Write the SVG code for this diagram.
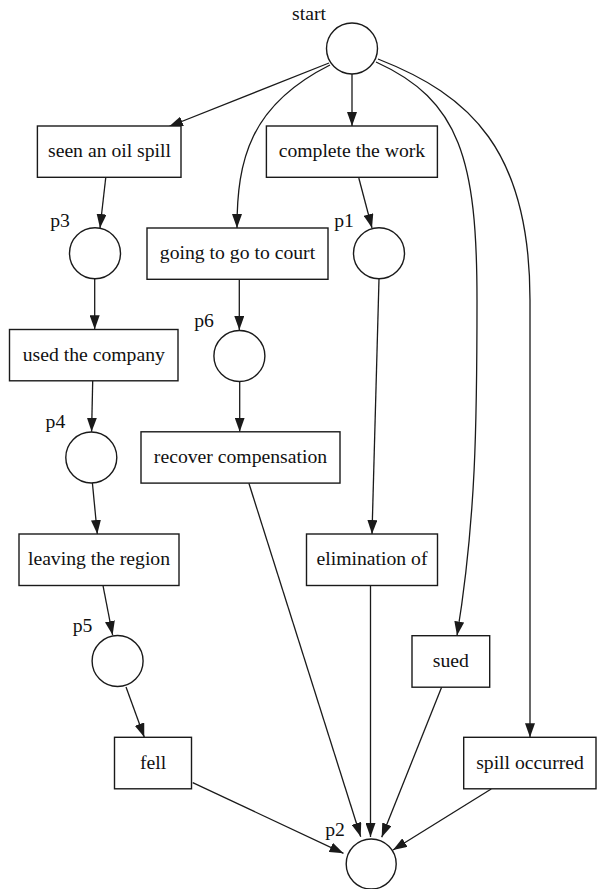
<svg xmlns="http://www.w3.org/2000/svg" width="597" height="889" viewBox="0 0 597 889">
<style>
.n{fill:#fff;stroke:#1a1a1a;stroke-width:1.4}
.t{font-family:"Liberation Serif","Times New Roman",serif;font-size:19.7px;fill:#111;text-anchor:middle}
.e{fill:none;stroke:#1a1a1a;stroke-width:1.3;marker-end:url(#ah)}
</style>
<defs>
<marker id="ah" markerUnits="userSpaceOnUse" markerWidth="14" markerHeight="10" refX="14" refY="5" orient="auto" viewBox="0 0 14 10">
<path d="M0,0 L14,5 L0,10 z" fill="#1a1a1a"/>
</marker>
</defs>
<rect width="597" height="889" fill="#fff"/>
<g id="edges">
<path class="e" d="M329,63 L169,126.5"/>
<path class="e" d="M330,65 C250,105 237,160 237,228"/>
<path class="e" d="M352,74 L352,126"/>
<path class="e" d="M376,62 C460,100 477,160 477,300 C477,420 476,520 457,635.5"/>
<path class="e" d="M378,59 C470,95 530,150 530,300 L530,737.3"/>
<path class="e" d="M105.7,178 L100,228"/>
<path class="e" d="M358.8,178 L372,228"/>
<path class="e" d="M94.7,278.5 L94.7,329.3"/>
<path class="e" d="M239.3,278.5 L239.3,330"/>
<path class="e" d="M379,279 L372,534"/>
<path class="e" d="M92.7,381 L91.6,431.7"/>
<path class="e" d="M239.7,381.7 L239.7,431.7"/>
<path class="e" d="M92.4,483 L97.3,534"/>
<path class="e" d="M103,585.7 L112.6,635"/>
<path class="e" d="M126,687 L144.3,737.3"/>
<path class="e" d="M248.9,483.3 L360.7,836.7"/>
<path class="e" d="M370.5,585.7 L370.5,837"/>
<path class="e" d="M441.6,687.3 L381.7,837.3"/>
<path class="e" d="M491.2,789 L393,850"/>
<path class="e" d="M192.7,782.7 L343.5,853.3"/>
</g>
<g id="start"><circle class="n" cx="352" cy="48.5" r="25.5"/><text class="t" x="309" y="20">start</text></g>
<g id="seen"><rect class="n" x="37.4" y="126" width="143.6" height="51.3"/><text class="t" x="109.5" y="157">seen an oil spill</text></g>
<g id="complete"><rect class="n" x="266.4" y="126" width="171" height="51.3"/><text class="t" x="351.9" y="157">complete the work</text></g>
<g id="p3"><circle class="n" cx="95" cy="253.3" r="25.5"/><text class="t" x="60" y="227">p3</text></g>
<g id="court"><rect class="n" x="147" y="228" width="181" height="51.3"/><text class="t" x="237.5" y="258.5">going to go to court</text></g>
<g id="p1"><circle class="n" cx="379" cy="253.3" r="25.5"/><text class="t" x="344" y="227">p1</text></g>
<g id="used"><rect class="n" x="9.5" y="329.5" width="168.5" height="51.3"/><text class="t" x="93.8" y="360.5">used the company</text></g>
<g id="p6"><circle class="n" cx="239.4" cy="356" r="25.5"/><text class="t" x="204" y="326.7">p6</text></g>
<g id="p4"><circle class="n" cx="91.3" cy="457.5" r="25.5"/><text class="t" x="55.4" y="428">p4</text></g>
<g id="recover"><rect class="n" x="141" y="431.8" width="199" height="51.3"/><text class="t" x="240.5" y="462.8">recover compensation</text></g>
<g id="leaving"><rect class="n" x="19" y="534" width="160" height="51.5"/><text class="t" x="99" y="565">leaving the region</text></g>
<g id="elimination"><rect class="n" x="306.5" y="534" width="131" height="51.5"/><text class="t" x="372" y="565">elimination of</text></g>
<g id="p5"><circle class="n" cx="117.6" cy="661" r="25.5"/><text class="t" x="82.6" y="631.7">p5</text></g>
<g id="sued"><rect class="n" x="412" y="635.7" width="77.7" height="51.5"/><text class="t" x="450.8" y="666.7">sued</text></g>
<g id="fell"><rect class="n" x="114.5" y="737.3" width="77" height="51.5"/><text class="t" x="153" y="768.5">fell</text></g>
<g id="spill"><rect class="n" x="463.7" y="737.3" width="132.3" height="51.5"/><text class="t" x="530" y="768.5">spill occurred</text></g>
<g id="p2"><circle class="n" cx="371.2" cy="864" r="25"/><text class="t" x="335" y="836">p2</text></g>
</svg>
